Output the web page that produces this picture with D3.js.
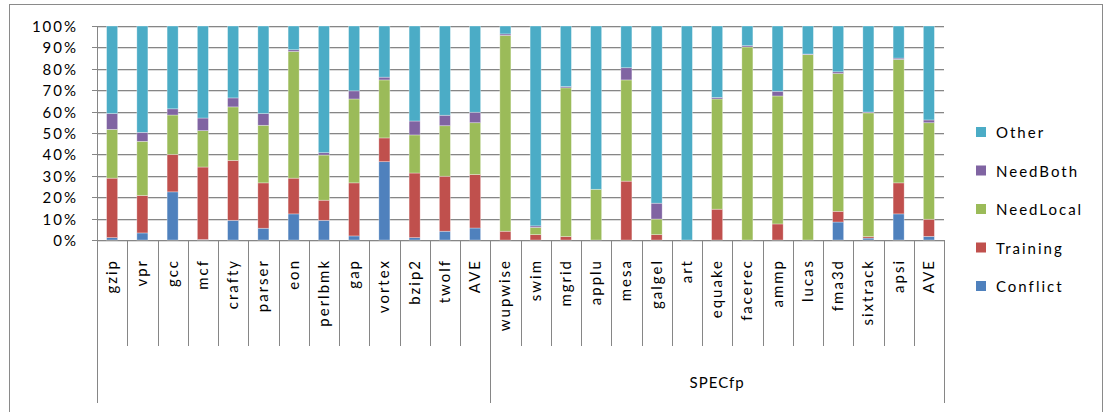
<!DOCTYPE html>
<html>
<head>
<meta charset="utf-8">
<script src="https://cdn.jsdelivr.net/npm/d3@7/dist/d3.min.js"></script>
<style>
  html, body { margin: 0; padding: 0; background: #fff; }
  svg { display: block; }
  text { font-family: Lato, "Open Sans", sans-serif; font-size: 15px; fill: #000; letter-spacing: 2px; }
</style>
</head>
<body>
<svg id="chart" width="1104" height="412"></svg>
<script>
// Benchmarks, grouped by suite (first suite has no caption)
const categories = ["gzip","vpr","gcc","mcf","crafty","parser","eon","perlbmk","gap","vortex","bzip2","twolf","AVE",
  "wupwise","swim","mgrid","applu","mesa","galgel","art","equake","facerec","ammp","lucas","fma3d","sixtrack","apsi","AVE"];
const groupNames = ["", "SPECfp"];
const groupSizes = [13, 15];

// Share of each outcome per benchmark (percent)
const conflict  = [1.1,3.3,22.5,0.2,9.2,5.5,12.2,9.2,1.9,36.6,1.1,4.1,5.6,
  0,0,0,0,0,0,0,0,0,0,0,8.4,0.9,12.2,1.7];
const training  = [27.8,17.5,17.5,33.9,28.0,21.2,16.7,9.4,24.8,11.1,30.2,25.7,25.0,
  4.1,2.5,1.6,0,27.5,2.5,0,14.4,0,7.5,0,5.0,0.7,14.5,8.0];
const needLocal = [22.8,25.3,18.4,17.0,25.0,26.9,59.2,21.1,39.2,27.1,17.8,23.6,24.2,
  91.5,3.4,69.5,23.7,47.3,7.3,0,51.5,90.2,59.8,86.6,64.4,57.8,57.7,45.1];
const needBoth  = [7.4,4.2,2.9,5.9,4.2,5.5,0.8,1.1,3.8,1.3,6.5,4.9,4.9,
  0.7,0.7,0.6,0,5.7,7.4,0,0.7,0.6,2.2,0.3,0.8,0.4,0.6,1.3];
const other     = [40.9,49.7,38.7,43.0,33.6,40.9,11.1,59.2,30.3,23.9,44.4,41.7,40.3,
  3.7,93.4,28.3,76.3,19.5,82.8,100,33.4,9.2,30.5,13.1,21.4,40.2,15.0,43.9];

const seriesNames = ["Conflict","Training","NeedLocal","NeedBoth","Other"];
const seriesColors = ["#4F81BD","#C0504D","#9BBB59","#8064A2","#4BACC6"];
const yTicks = [0,10,20,30,40,50,60,70,80,90,100];

const rows = categories.map((c, i) => ({
  idx: i, name: c,
  Conflict: conflict[i], Training: training[i], NeedLocal: needLocal[i],
  NeedBoth: needBoth[i], Other: other[i]
}));

const svg = d3.select("#chart");
const plotLeft = 97, plotRight = 944, plotTop = 26, plotBottom = 240;
const axisColor = "#868686";

// outer frame
svg.append("rect")
  .attr("x", 9.5).attr("y", 4.5).attr("width", 1093).attr("height", 430)
  .attr("fill", "none").attr("stroke", "#8a8a8a").attr("stroke-width", 1);

const x = d3.scaleBand()
  .domain(d3.range(categories.length))
  .range([plotLeft, plotRight])
  .paddingInner(0.635).paddingOuter(0.3175);
const step = x.step();

const y = d3.scaleLinear().domain([0, 100]).range([plotBottom, plotTop]);

// horizontal gridlines
const grid = svg.append("g");
yTicks.forEach(t => {
  const yy = Math.round(y(t)) + 0.5;
  grid.append("line").attr("x1", plotLeft - 5).attr("x2", plotRight).attr("y1", yy).attr("y2", yy)
    .attr("stroke", axisColor).attr("stroke-width", 1);
  grid.append("line").attr("x1", plotLeft).attr("x2", plotRight).attr("y1", yy + 1).attr("y2", yy + 1)
    .attr("stroke", "#dcdcdc").attr("stroke-width", 1);
});

// y axis labels
const yAxis = svg.append("g")
  .attr("transform", `translate(${plotLeft - 19},0)`)
  .call(d3.axisLeft(y).tickValues(yTicks).tickFormat(d => d + "%").tickSize(0).tickPadding(0));
yAxis.select(".domain").remove();
yAxis.selectAll("text").attr("font-family", null).attr("font-size", null).attr("fill", "#000").attr("dy", "0.36em");

svg.append("line").attr("x1", plotLeft + 0.5).attr("x2", plotLeft + 0.5).attr("y1", plotTop).attr("y2", plotBottom + 1)
  .attr("stroke", axisColor);

// stacked bars
const stack = d3.stack().keys(seriesNames);
const stacked = stack(rows);
svg.append("g").selectAll("g")
  .data(stacked).join("g")
  .attr("fill", (d, i) => seriesColors[i])
  .selectAll("rect")
  .data(d => d.filter(s => s[1] - s[0] > 0))
  .join("rect")
  .attr("x", d => x(d.data.idx))
  .attr("width", x.bandwidth())
  .attr("y", d => y(d[1]))
  .attr("height", d => y(d[0]) - y(d[1]))
  .attr("stroke", "rgba(255,255,255,0.45)")
  .attr("stroke-width", 0.7);

// category separators below the axis
const sep = svg.append("g").attr("stroke", axisColor).attr("stroke-width", 1);
const groupEdges = [0];
groupSizes.reduce((a, n) => { groupEdges.push(a + n); return a + n; }, 0);
for (let i = 0; i <= categories.length; i++) {
  const xx = Math.round(plotLeft + i * step) + 0.5;
  const isGroup = groupEdges.includes(i);
  sep.append("line").attr("x1", xx).attr("x2", xx).attr("y1", plotBottom).attr("y2", isGroup ? 403 : 346);
}

// category labels (vertical)
svg.append("g").selectAll("text")
  .data(rows).join("text")
  .attr("transform", d => `translate(${x(d.idx) + x.bandwidth() / 2 + 5},${259}) rotate(-90)`)
  .attr("text-anchor", "end")
  .text(d => d.name);

// group captions
let start = 0;
groupNames.forEach((g, gi) => {
  const x0 = plotLeft + start * step, x1 = plotLeft + (start + groupSizes[gi]) * step;
  svg.append("text").attr("x", (x0 + x1) / 2).attr("y", 388)
    .attr("text-anchor", "middle").style("letter-spacing", "1px").text(g);
  start += groupSizes[gi];
});

// legend, top entry is the last series
const legend = svg.append("g");
seriesNames.slice().reverse().forEach((s, i) => {
  const cy = 133 + i * 38.5;
  legend.append("rect").attr("x", 976).attr("y", cy - 6).attr("width", 10).attr("height", 10)
    .attr("fill", seriesColors[seriesNames.length - 1 - i]);
  legend.append("text").attr("x", 996).attr("y", cy).attr("dy", "0.36em").text(s);
});
</script>
</body>
</html>
